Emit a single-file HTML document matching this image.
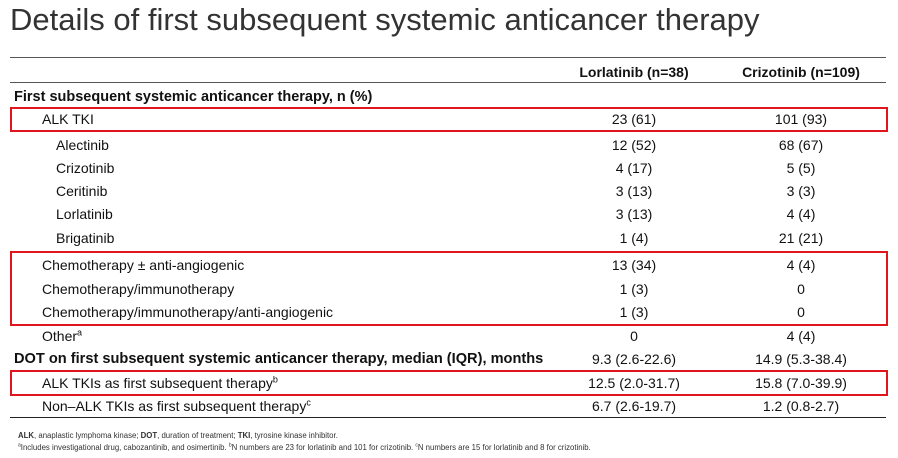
<!DOCTYPE html>
<html><head><meta charset="utf-8"><style>
body{margin:0;width:898px;height:458px;background:#fff;position:relative;overflow:hidden;font-family:"Liberation Sans",sans-serif;color:#111}
.t{position:absolute;white-space:nowrap;font-size:14px;line-height:16px}
.b{font-weight:bold}
.c1{width:180px;left:544px;text-align:center}
.c2{width:180px;left:711px;text-align:center}
.ln{position:absolute;left:10px;width:876px;background:#555}
.box{position:absolute;border:2px solid #e0161c;box-sizing:border-box}
sup{font-size:9px;line-height:0}
.f{position:absolute;white-space:nowrap;left:18px;font-size:7.8px;line-height:9px;color:#333}
</style></head><body>
<div class="t" style="left:10px;top:2px;font-size:31px;line-height:36px;color:#333;font-weight:300">Details of first subsequent systemic anticancer therapy</div>
<div class="ln" style="top:57px;height:1px"></div>
<div class="t b c1" style="top:64px">Lorlatinib (n=38)</div>
<div class="t b c2" style="top:64px">Crizotinib (n=109)</div>
<div class="ln" style="top:82px;height:1px"></div>
<div class="t b" style="left:14px;top:89px;font-size:14.5px">First subsequent systemic anticancer therapy, n (%)</div>
<div class="box" style="left:10px;top:107px;width:878px;height:25px"></div>
<div class="t" style="left:42px;top:111px">ALK TKI</div><div class="t c1" style="top:111px">23 (61)</div><div class="t c2" style="top:111px">101 (93)</div>
<div class="t" style="left:56px;top:137px">Alectinib</div><div class="t c1" style="top:137px">12 (52)</div><div class="t c2" style="top:137px">68 (67)</div>
<div class="t" style="left:56px;top:160px">Crizotinib</div><div class="t c1" style="top:160px">4 (17)</div><div class="t c2" style="top:160px">5 (5)</div>
<div class="t" style="left:56px;top:183px">Ceritinib</div><div class="t c1" style="top:183px">3 (13)</div><div class="t c2" style="top:183px">3 (3)</div>
<div class="t" style="left:56px;top:206px">Lorlatinib</div><div class="t c1" style="top:206px">3 (13)</div><div class="t c2" style="top:206px">4 (4)</div>
<div class="t" style="left:56px;top:230px">Brigatinib</div><div class="t c1" style="top:230px">1 (4)</div><div class="t c2" style="top:230px">21 (21)</div>
<div class="box" style="left:10px;top:251px;width:878px;height:75px"></div>
<div class="t" style="left:42px;top:257px">Chemotherapy ± anti-angiogenic</div><div class="t c1" style="top:257px">13 (34)</div><div class="t c2" style="top:257px">4 (4)</div>
<div class="t" style="left:42px;top:281px">Chemotherapy/immunotherapy</div><div class="t c1" style="top:281px">1 (3)</div><div class="t c2" style="top:281px">0</div>
<div class="t" style="left:42px;top:304px">Chemotherapy/immunotherapy/anti-angiogenic</div><div class="t c1" style="top:304px">1 (3)</div><div class="t c2" style="top:304px">0</div>
<div class="t" style="left:42px;top:328px">Other<sup>a</sup></div><div class="t c1" style="top:328px">0</div><div class="t c2" style="top:328px">4 (4)</div>
<div class="t b" style="left:14px;top:351px;font-size:14.6px">DOT on first subsequent systemic anticancer therapy, median (IQR), months</div><div class="t c1" style="top:351px">9.3 (2.6-22.6)</div><div class="t c2" style="top:351px">14.9 (5.3-38.4)</div>
<div class="box" style="left:10px;top:370px;width:878px;height:26px"></div>
<div class="t" style="left:42px;top:375px">ALK TKIs as first subsequent therapy<sup>b</sup></div><div class="t c1" style="top:375px">12.5 (2.0-31.7)</div><div class="t c2" style="top:375px">15.8 (7.0-39.9)</div>
<div class="t" style="left:42px;top:398px">Non–ALK TKIs as first subsequent therapy<sup>c</sup></div><div class="t c1" style="top:398px">6.7 (2.6-19.7)</div><div class="t c2" style="top:398px">1.2 (0.8-2.7)</div>
<div class="ln" style="top:417px;height:1px;background:#222"></div>
<div class="f" style="top:431px"><b>ALK</b>, anaplastic lymphoma kinase; <b>DOT</b>, duration of treatment; <b>TKI</b>, tyrosine kinase inhibitor.</div>
<div class="f" style="top:443px"><sup style="font-size:5px">a</sup>Includes investigational drug, cabozantinib, and osimertinib. <sup style="font-size:5px">b</sup>N numbers are 23 for lorlatinib and 101 for crizotinib. <sup style="font-size:5px">c</sup>N numbers are 15 for lorlatinib and 8 for crizotinib.</div>
</body></html>
